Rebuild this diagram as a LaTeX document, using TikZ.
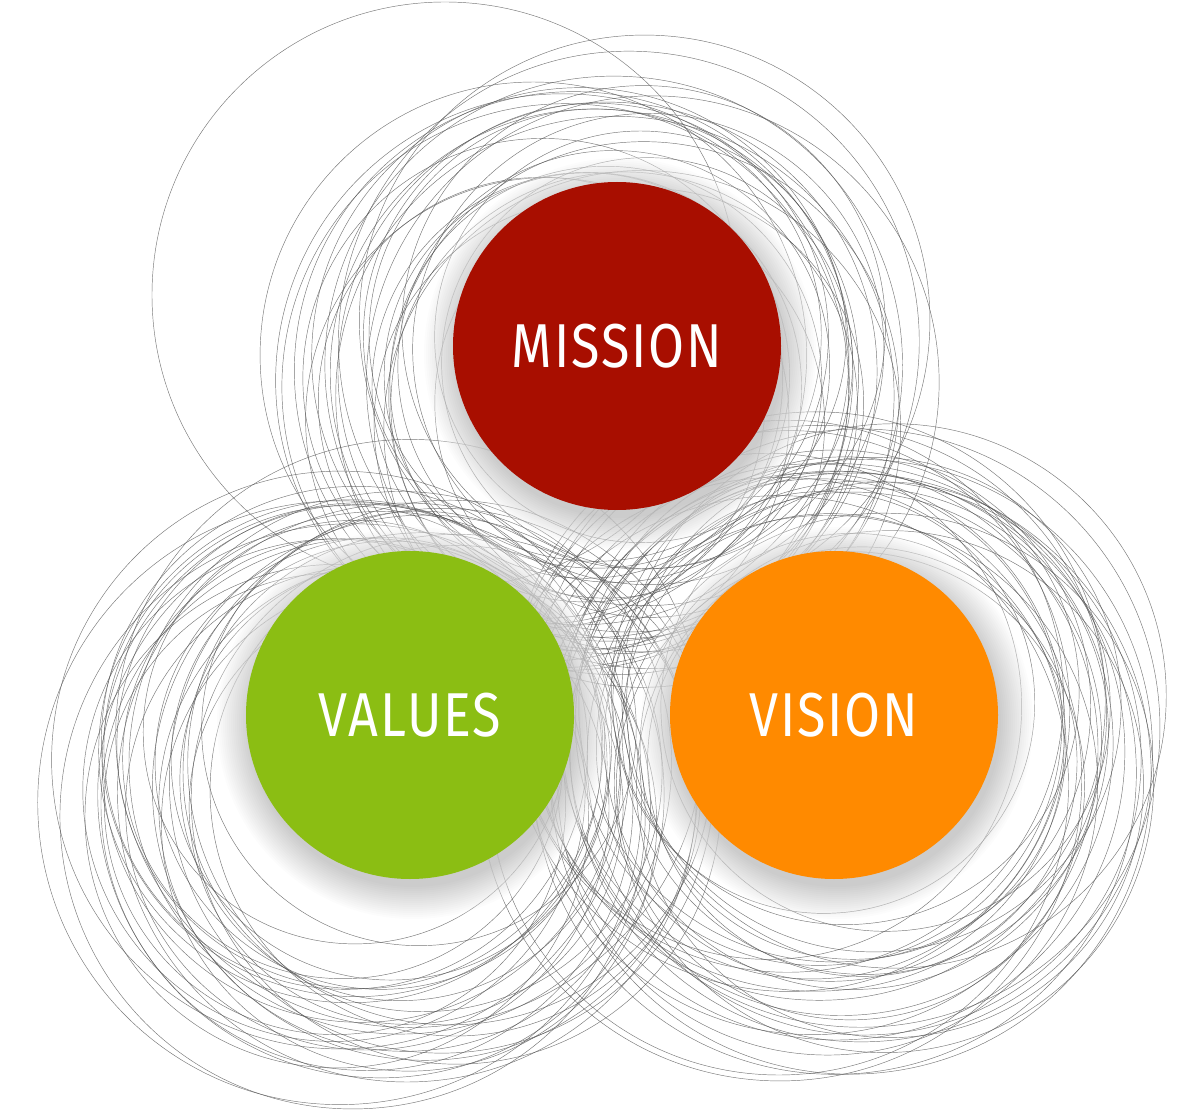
\documentclass[tikz,border=0pt]{standalone}
\usepackage{fontspec}
\newfontfamily\lblfont[FakeStretch=0.84,LetterSpace=3]{Fira Sans}
\definecolor{missionc}{HTML}{A80E00}
\definecolor{valuesc}{HTML}{8BBE13}
\definecolor{visionc}{HTML}{FF8A00}
\definecolor{ringc}{HTML}{555555}
\begin{document}
\begin{tikzpicture}[x=1pt,y=-1pt,
  ring/.style={draw=ringc, line width=0.45pt, draw opacity=0.8},
  bigdot/.style={circle, minimum size=328pt, inner sep=0pt, text=white,
    font=\lblfont\fontsize{62}{62}\selectfont}]
\useasboundingbox (0,0) rectangle (1200,1115);
\fill[white] (0,0) rectangle (1200,1115);
\pgfmathsetseed{7}
% rings round MISSION
\draw[ring] (445,295) circle[radius=293];
\foreach \i in {1,...,30}{
  \pgfmathsetmacro\cx{595+65*rand}
  \pgfmathsetmacro\cy{375+55*rand}
  \pgfmathsetmacro\rr{200+95*rnd}
  \draw[ring] (\cx,\cy) circle[radius=\rr];
}
% rings round VALUES
\foreach \i in {1,...,32}{
  \pgfmathsetmacro\cx{395+65*rand}
  \pgfmathsetmacro\cy{775+50*rand}
  \pgfmathsetmacro\rr{210+95*rnd}
  \draw[ring] (\cx,\cy) circle[radius=\rr];
}
% rings round VISION
\foreach \i in {1,...,32}{
  \pgfmathsetmacro\cx{830+65*rand}
  \pgfmathsetmacro\cy{740+50*rand}
  \pgfmathsetmacro\rr{210+95*rnd}
  \draw[ring] (\cx,\cy) circle[radius=\rr];
}
% halos and shadows
\foreach \px/\py in {617/346, 410/715, 834/715}{
  \foreach \k in {0,...,12}{
    \fill[white, fill opacity=0.14] (\px+3,\py+6) circle[radius=164+38-\k*3];
  }
  \foreach \k in {0,...,16}{
    \fill[black, fill opacity=0.013] (\px+3,\py+8) circle[radius=164+\k*2];
  }
}
\node[bigdot, fill=missionc] (mission) at (617,346) {MISSION};
\node[bigdot, fill=valuesc] (values) at (410,715) {VALUES};
\node[bigdot, fill=visionc] (vision) at (834,715) {VISION};
\end{tikzpicture}
\end{document}
